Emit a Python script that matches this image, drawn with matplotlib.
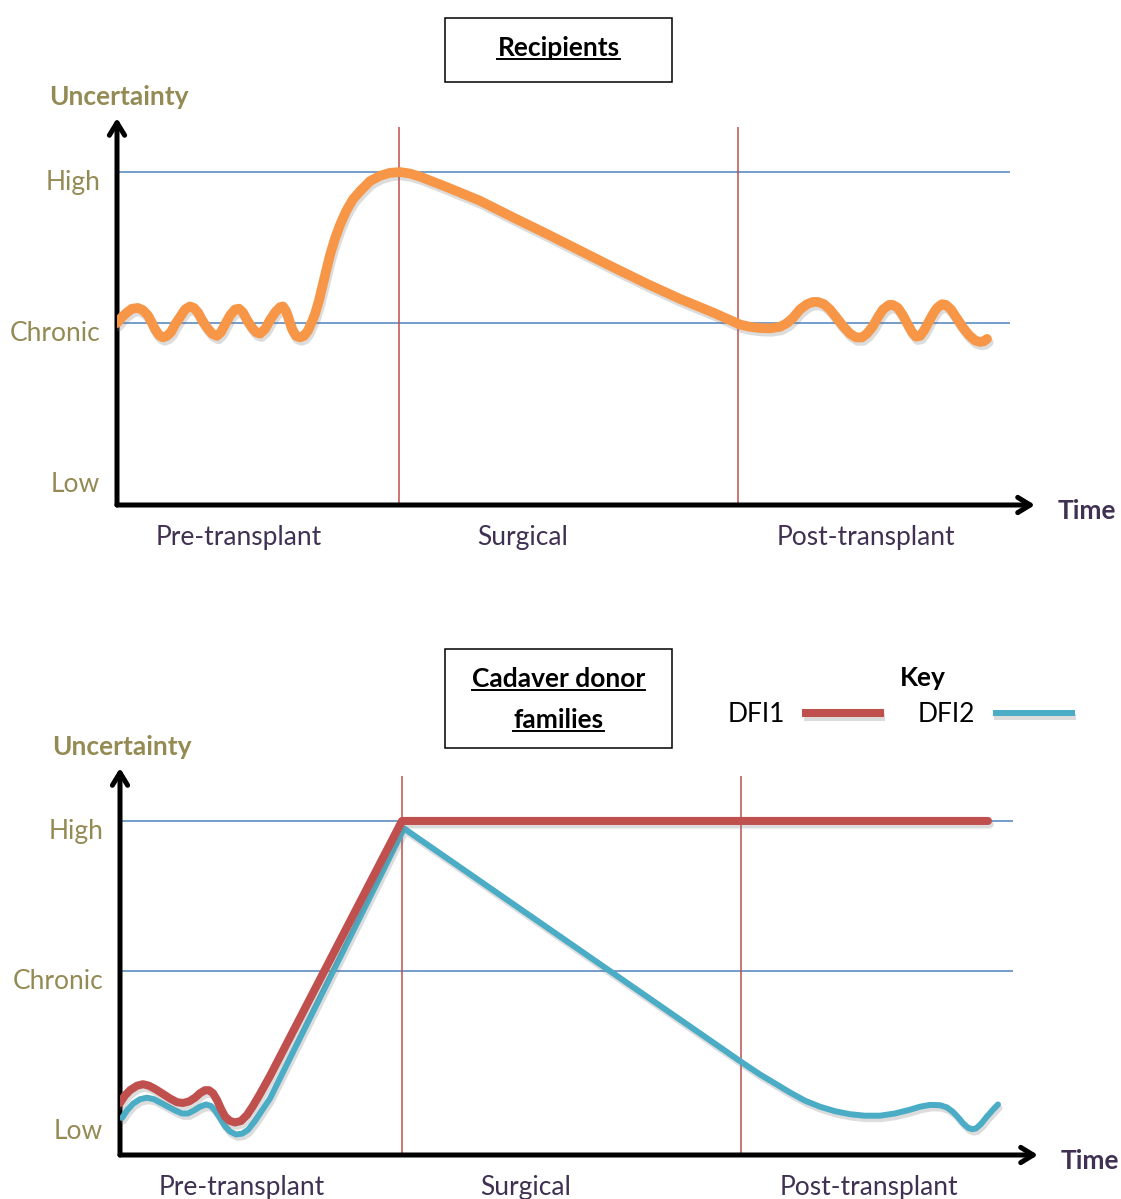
import matplotlib.pyplot as plt
import matplotlib.patheffects as pe
from matplotlib.patches import Rectangle
from matplotlib.lines import Line2D
from matplotlib.transforms import ScaledTranslation

plt.rcParams['font.family'] = ['Lato', 'DejaVu Sans']

# -------------------------------
# Data (time in arbitrary units, uncertainty: Low = 0, Chronic = 1, High = 2)
# -------------------------------
level_labels = ['Low', 'Chronic', 'High']
level_y = [0.0, 1.0, 2.0]
phase_labels = ['Pre-transplant', 'Surgical', 'Post-transplant']
phase_x = [1.22, 4.06, 7.49]
phase_bounds = [2.82, 6.21]
grid_end = 8.93

recip_t = [0.00, 0.05, 0.10, 0.15, 0.21, 0.26, 0.31, 0.35, 0.38, 0.42,
           0.46, 0.50, 0.54, 0.58, 0.63, 0.68, 0.73, 0.77, 0.81, 0.85,
           0.90, 0.95, 1.00, 1.04, 1.08, 1.13, 1.18, 1.22, 1.26, 1.30,
           1.35, 1.39, 1.43, 1.48, 1.53, 1.58, 1.63, 1.66, 1.69, 1.72,
           1.75, 1.79, 1.83, 1.87, 1.91, 1.95, 1.98, 2.02, 2.06, 2.10,
           2.13, 2.18, 2.23, 2.29, 2.36, 2.44, 2.53, 2.63, 2.73, 2.83,
           2.93, 3.03, 3.30, 3.63, 3.96, 4.30, 4.63, 4.96, 5.30, 5.63,
           5.96, 6.23, 6.33, 6.43, 6.53, 6.63, 6.70, 6.76, 6.83, 6.90,
           6.96, 7.01, 7.07, 7.13, 7.19, 7.26, 7.33, 7.39, 7.45, 7.50,
           7.56, 7.61, 7.66, 7.72, 7.76, 7.81, 7.86, 7.90, 7.95, 7.99,
           8.03, 8.07, 8.11, 8.16, 8.20, 8.25, 8.29, 8.34, 8.40, 8.46,
           8.52, 8.58, 8.63, 8.67, 8.70]
recip_u = [1.00, 1.04, 1.07, 1.095, 1.10, 1.085, 1.05, 1.00, 0.96, 0.92,
           0.905, 0.915, 0.94, 0.99, 1.04, 1.09, 1.11, 1.10, 1.07, 1.02,
           0.97, 0.93, 0.915, 0.94, 0.99, 1.05, 1.09, 1.095, 1.07, 1.02,
           0.97, 0.94, 0.93, 0.96, 1.02, 1.07, 1.105, 1.11, 1.08, 1.02,
           0.96, 0.915, 0.905, 0.915, 0.95, 1.01, 1.06, 1.15, 1.26, 1.37,
           1.45, 1.56, 1.65, 1.74, 1.82, 1.88, 1.94, 1.975, 1.995, 2.00,
           1.99, 1.97, 1.90, 1.81, 1.70, 1.59, 1.48, 1.37, 1.26, 1.16,
           1.07, 0.99, 0.975, 0.967, 0.965, 0.975, 1.00, 1.035, 1.09, 1.125,
           1.14, 1.14, 1.125, 1.09, 1.04, 0.98, 0.93, 0.905, 0.905, 0.93,
           0.98, 1.04, 1.09, 1.12, 1.12, 1.10, 1.05, 1.00, 0.94, 0.91,
           0.915, 0.95, 1.00, 1.06, 1.10, 1.125, 1.12, 1.09, 1.03, 0.97,
           0.92, 0.885, 0.875, 0.88, 0.895]

dfi1_t = [0.00, 0.05, 0.10, 0.17, 0.23, 0.29, 0.36, 0.43, 0.50, 0.57,
          0.63, 0.69, 0.75, 0.80, 0.85, 0.89, 0.93, 0.97, 1.01, 1.05,
          1.10, 1.15, 1.21, 1.27, 1.33, 1.40, 1.50, 2.82, 8.68]
dfi1_u = [0.12, 0.17, 0.205, 0.235, 0.245, 0.235, 0.21, 0.18, 0.15, 0.125,
          0.12, 0.13, 0.155, 0.185, 0.205, 0.205, 0.185, 0.14, 0.08, 0.03,
          0.00, -0.01, 0.00, 0.04, 0.10, 0.18, 0.30, 2.00, 2.00]

dfi2_t = [0.02, 0.07, 0.13, 0.20, 0.27, 0.34, 0.41, 0.48, 0.55, 0.62,
          0.68, 0.74, 0.80, 0.86, 0.91, 0.95, 1.00, 1.05, 1.10, 1.16,
          1.22, 1.28, 1.35, 1.43, 1.50, 2.84, 6.22, 6.40, 6.55, 6.70,
          6.85, 7.00, 7.15, 7.30, 7.45, 7.60, 7.75, 7.90, 8.00, 8.10,
          8.20, 8.27, 8.33, 8.38, 8.43, 8.48, 8.52, 8.56, 8.61, 8.67,
          8.73, 8.78]
dfi2_u = [0.02, 0.07, 0.115, 0.145, 0.155, 0.145, 0.12, 0.095, 0.07, 0.05,
          0.05, 0.07, 0.095, 0.11, 0.10, 0.07, 0.02, -0.035, -0.07, -0.09,
          -0.085, -0.06, 0.00, 0.08, 0.15, 1.95, 0.39, 0.31, 0.25, 0.19,
          0.135, 0.095, 0.065, 0.045, 0.035, 0.035, 0.05, 0.075, 0.095, 0.107,
          0.105, 0.09, 0.06, 0.025, -0.015, -0.045, -0.055, -0.05, -0.02, 0.03,
          0.075, 0.11]

# -------------------------------
# Style
# -------------------------------
OLIVE = '#948A54'
PURPLE = '#403152'
ORANGE = '#F79646'
RED = '#C0504D'
TEAL = '#4BACC6'
GRID = '#4F81BD'
FS = 19

W, H = 1121, 1199
fig = plt.figure(figsize=(W / 100, H / 100), dpi=100)

shadow = [pe.SimpleLineShadow(offset=(1.2, -2.5), shadow_color='#777777', alpha=0.25),
          pe.Normal()]


def make_panel(x0, y_top, y_bot, ylim):
    ax = fig.add_axes([x0 / W, 1 - y_bot / H, 918 / W, (y_bot - y_top) / H])
    ax.set_xlim(0, 9.18)
    ax.set_ylim(*ylim)
    for s in ax.spines.values():
        s.set_visible(False)

    ax.hlines(level_y[1:], 0, grid_end, color=GRID, lw=1.1, zorder=1)
    ax.vlines(phase_bounds, ylim[0], 2.30, color=RED, lw=1.1, zorder=1)

    arrow = dict(arrowstyle='->,head_length=0.9,head_width=0.55', lw=3.6,
                 color='black', shrinkA=0, shrinkB=0)
    ax.annotate('', xy=(0, 1), xytext=(0, 0), xycoords='axes fraction', arrowprops=arrow)
    ax.annotate('', xy=(1, 0), xytext=(0, 0), xycoords='axes fraction', arrowprops=arrow)

    ax.set_yticks(level_y, level_labels)
    ax.set_xticks(phase_x, phase_labels)
    ax.tick_params(axis='y', length=0, pad=12, labelsize=FS, labelcolor=OLIVE)
    ax.tick_params(axis='x', length=0, pad=14.5, labelsize=FS, labelcolor=PURPLE)
    # level labels sit a little below their reference lines
    shift = ScaledTranslation(0, -8 / 100, fig.dpi_scale_trans)
    for lbl in ax.get_yticklabels():
        lbl.set_transform(lbl.get_transform() + shift)

    ax.annotate('Uncertainty', xy=(0, 1), xycoords='axes fraction', xytext=(1.5, 15),
                textcoords='offset points', ha='center', va='center',
                fontsize=FS, fontweight='bold', color=OLIVE)
    ax.annotate('Time', xy=(1, 0), xycoords='axes fraction', xytext=(37, -4.5),
                textcoords='offset points', ha='center', va='center',
                fontsize=FS, fontweight='bold', color=PURPLE)
    return ax


# -------------------------------
# Panel 1 - Recipients
# -------------------------------
ax1 = make_panel(117, 118, 505, (-0.205, 2.358))
ax1.plot(recip_t, recip_u, color=ORANGE, lw=7, solid_capstyle='round',
         solid_joinstyle='round', path_effects=shadow, zorder=3)

# -------------------------------
# Panel 2 - Cadaver donor families
# -------------------------------
ax2 = make_panel(120, 768, 1155, (-0.227, 2.353))
l2, = ax2.plot(dfi2_t, dfi2_u, color=TEAL, lw=4.3, solid_capstyle='round',
               solid_joinstyle='round', path_effects=shadow, zorder=3)
l1, = ax2.plot(dfi1_t, dfi1_u, color=RED, lw=5.8, solid_capstyle='round',
               solid_joinstyle='round', path_effects=shadow, zorder=4)

leg = ax2.legend(handles=[l1, l2], labels=['DFI1', 'DFI2'], ncol=2,
                 markerfirst=False, frameon=False, loc='center',
                 bbox_to_anchor=(901 / W, 1 - 715 / H), bbox_transform=fig.transFigure,
                 handlelength=3.1, handletextpad=0.65, columnspacing=1.3,
                 borderpad=0, fontsize=FS)
for line in leg.get_lines():
    line.set_solid_capstyle('butt')
fig.text(923 / W, 1 - 678 / H, 'Key', ha='center', va='center',
         fontsize=FS, fontweight='bold', color='black')

# -------------------------------
# Title boxes
# -------------------------------
fig.add_artist(Rectangle((445 / W, 1 - 82 / H), 227 / W, 64 / H, transform=fig.transFigure,
                         fill=False, ec='black', lw=1.1))
fig.add_artist(Rectangle((445 / W, 1 - 748 / H), 227 / W, 99 / H, transform=fig.transFigure,
                         fill=False, ec='black', lw=1.1))

titles = []
for txt, ypix in [('Recipients', 48), ('Cadaver donor', 679), ('families', 720)]:
    titles.append(fig.text(558.5 / W, 1 - ypix / H, txt, ha='center', va='center',
                           fontsize=FS, fontweight='bold', color='black'))

fig.canvas.draw()
for t in titles:
    bb = t.get_window_extent()
    yline = (bb.y0 + 1) / H
    fig.add_artist(Line2D([bb.x0 / W, bb.x1 / W], [yline, yline],
                          transform=fig.transFigure, color='black', lw=1.4))

plt.savefig('out.png', dpi=100)
plt.close()
